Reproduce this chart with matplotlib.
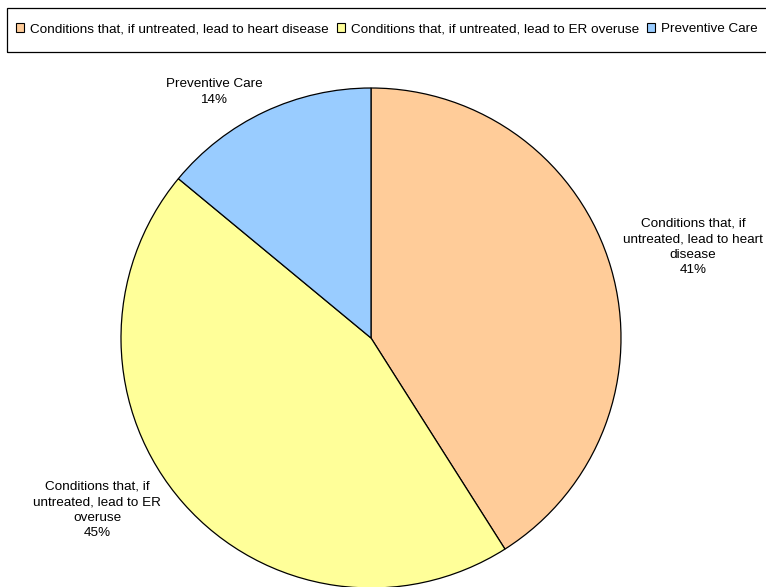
import matplotlib
matplotlib.use("Agg")
import matplotlib.pyplot as plt
from matplotlib.patches import Rectangle

plt.rcParams['font.family'] = ['Liberation Sans', 'DejaVu Sans']

categories = ["Conditions that, if untreated, lead to heart disease",
              "Conditions that, if untreated, lead to ER overuse",
              "Preventive Care"]
values = [41, 45, 14]
colors = ["#FFCC99", "#FFFF99", "#99CCFF"]
label_texts = ["Conditions that, if\nuntreated, lead to heart\ndisease\n41%",
               "Conditions that, if\nuntreated, lead to ER\noveruse\n45%",
               "Preventive Care\n14%"]

W, H = 766, 587
fig = plt.figure(figsize=(W / 100, H / 100), dpi=100)
ax = fig.add_axes([0, 0, 1, 1])

cx, cy, R = 371, H - 338, 250
wedges, _ = ax.pie(values, colors=colors, startangle=90, counterclock=False,
                   center=(cx, cy), radius=R, frame=True,
                   wedgeprops=dict(edgecolor='black', linewidth=0.9))
ax.set_xlim(0, W)
ax.set_ylim(0, H)
ax.set_aspect('equal')
ax.axis('off')

label_pos = [(693, H - 247), (97, H - 510), (214, H - 92)]
for (x, y), t in zip(label_pos, label_texts):
    ax.text(x, y, t, ha='center', va='center', fontsize=9.7, linespacing=1.38,
            color='black')

# legend frame (extends past right edge as in reference)
fig.patches.append(Rectangle((7 / W, 1 - 52 / H), 800 / W, 44 / H,
                             transform=fig.transFigure, fill=False,
                             edgecolor='black', linewidth=0.9))
leg = fig.legend(wedges, categories, loc='center left',
                 bbox_to_anchor=(12 / W, 1 - 29 / H), ncol=3, frameon=False,
                 fontsize=9.7, handlelength=0.6, handleheight=0.6,
                 handletextpad=0.45, columnspacing=0.6, borderpad=0.3,
                 borderaxespad=0)
for h in leg.legend_handles:
    h.set_edgecolor('black')
    h.set_linewidth(0.8)

fig.savefig("out.png", dpi=100)
